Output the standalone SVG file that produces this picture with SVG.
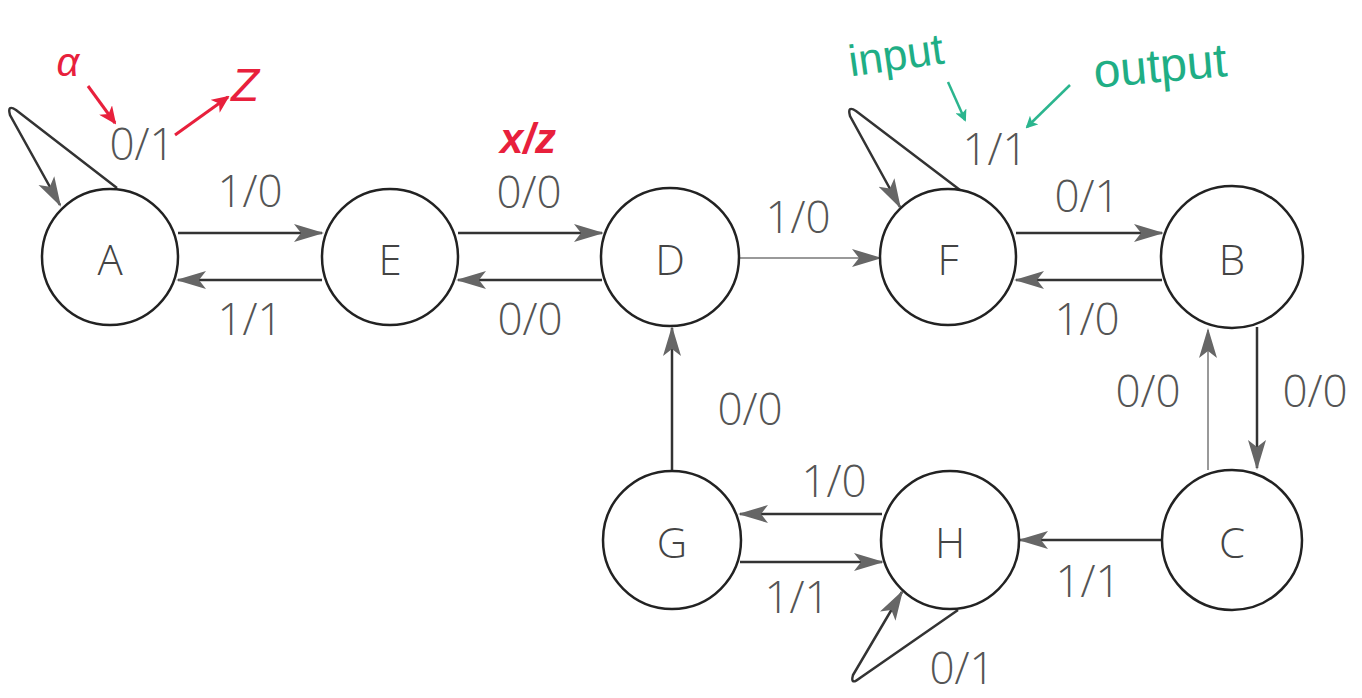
<svg xmlns="http://www.w3.org/2000/svg" width="1362" height="698" viewBox="0 0 1362 698">
<style>
.n{fill:#fff;stroke:#222;stroke-width:2.5}
.nt{font-family:"Open Sans","Liberation Sans",sans-serif;font-size:42px;font-weight:300;fill:#444;text-anchor:middle;dominant-baseline:central}
.e{stroke:#333;stroke-width:2.5;fill:none;marker-end:url(#ah)}
.et{stroke:#777;stroke-width:1.5;fill:none;marker-end:url(#ah)}
.l{font-family:"Open Sans","Liberation Sans",sans-serif;font-size:44px;font-weight:300;fill:#555;text-anchor:middle}
.red{font-family:"Liberation Sans",sans-serif;fill:#e8203c;text-anchor:middle}
.grn{font-family:"Liberation Sans",sans-serif;fill:#1fae85;text-anchor:middle}
.ra{stroke:#e8203c;stroke-width:3;fill:none;marker-end:url(#rh)}
.ga{stroke:#2bb58e;stroke-width:2.5;fill:none;marker-end:url(#gh)}
</style>
<defs>
<marker id="ah" markerWidth="30" markerHeight="20" refX="28" refY="10" orient="auto" markerUnits="userSpaceOnUse">
<path d="M0,1 L30,10 L0,19 L7,10 Z" fill="#666"/>
</marker>
<marker id="rh" markerWidth="18" markerHeight="16" refX="16" refY="8" orient="auto" markerUnits="userSpaceOnUse">
<path d="M0,0 L18,8 L0,16 L5,8 Z" fill="#e8203c"/>
</marker>
<marker id="gh" markerWidth="12" markerHeight="12" refX="10" refY="6" orient="auto" markerUnits="userSpaceOnUse">
<path d="M0,0 L12,6 L0,12 L3,6 Z" fill="#2bb58e"/>
</marker>
</defs>
<rect width="1362" height="698" fill="#fff"/>
<g id="connectors">
<path class="e" d="M178,233 H322"/>
<path class="e" d="M322,280 H178"/>
<path class="e" d="M458,233 H602"/>
<path class="e" d="M602,280 H458"/>
<path class="et" d="M739,258 H880"/>
<path class="e" d="M1016,233 H1162"/>
<path class="e" d="M1162,280 H1016"/>
<path class="e" d="M1257,327 V468"/>
<path class="et" d="M1208,470 V330"/>
<path class="e" d="M1162,540 H1020"/>
<path class="e" d="M882,514 H740"/>
<path class="e" d="M740,562 H882"/>
<path class="e" d="M672,471 V328"/>
<path class="e" d="M117,188 L16,110 Q7,104 10,115 L60,205"/>
<path class="e" d="M960,190 L856,111 Q847,105 850,116 L900,207"/>
<path class="e" d="M958,610 L860,678 Q850,686 853,675 L902,592"/>
</g>
<g id="node-A"><circle class="n" cx="110" cy="257" r="68"/><text class="nt" x="110" y="258">A</text></g>
<g id="node-E"><circle class="n" cx="390" cy="257" r="68"/><text class="nt" x="390" y="258">E</text></g>
<g id="node-D"><circle class="n" cx="670" cy="257" r="69"/><text class="nt" x="670" y="258">D</text></g>
<g id="node-F"><circle class="n" cx="948" cy="257" r="68"/><text class="nt" x="948" y="258">F</text></g>
<g id="node-B"><circle class="n" cx="1232" cy="257" r="71"/><text class="nt" x="1232" y="258">B</text></g>
<g id="node-C"><circle class="n" cx="1232" cy="540" r="70"/><text class="nt" x="1232" y="541">C</text></g>
<g id="node-H"><circle class="n" cx="950" cy="540" r="69"/><text class="nt" x="950" y="541">H</text></g>
<g id="node-G"><circle class="n" cx="672" cy="540" r="69"/><text class="nt" x="672" y="541">G</text></g>
<g id="labels">
<text class="l" x="142" y="160">0/1</text>
<text class="l" x="250" y="207">1/0</text>
<text class="l" x="250" y="335">1/1</text>
<text class="l" x="529" y="208">0/0</text>
<text class="l" x="530" y="335">0/0</text>
<text class="l" x="798" y="233">1/0</text>
<text class="l" x="995" y="165">1/1</text>
<text class="l" x="1087" y="212">0/1</text>
<text class="l" x="1087" y="335">1/0</text>
<text class="l" x="1148" y="407">0/0</text>
<text class="l" x="1315" y="407">0/0</text>
<text class="l" x="750" y="425">0/0</text>
<text class="l" x="834" y="497">1/0</text>
<text class="l" x="797" y="613">1/1</text>
<text class="l" x="1088" y="597">1/1</text>
<text class="l" x="962" y="684">0/1</text>
</g>
<g id="annotations">
<text class="red" x="68" y="76" font-size="40" font-style="italic">α</text>
<path class="ra" d="M88,86 L115,123"/>
<path class="ra" d="M175,135 L228,97"/>
<text class="red" x="245" y="101" font-size="46" font-style="italic">Z</text>
<text class="red" x="528" y="153" font-size="42" font-weight="bold" font-style="italic">x/z</text>
<text class="grn" x="896" y="70" font-size="44" transform="rotate(-8 896 55)">input</text>
<text class="grn" x="1160" y="82" font-size="48" transform="rotate(-5 1160 65)">output</text>
<path class="ga" d="M948,82 L965,120"/>
<path class="ga" d="M1070,85 L1027,127"/>
</g>
</svg>
